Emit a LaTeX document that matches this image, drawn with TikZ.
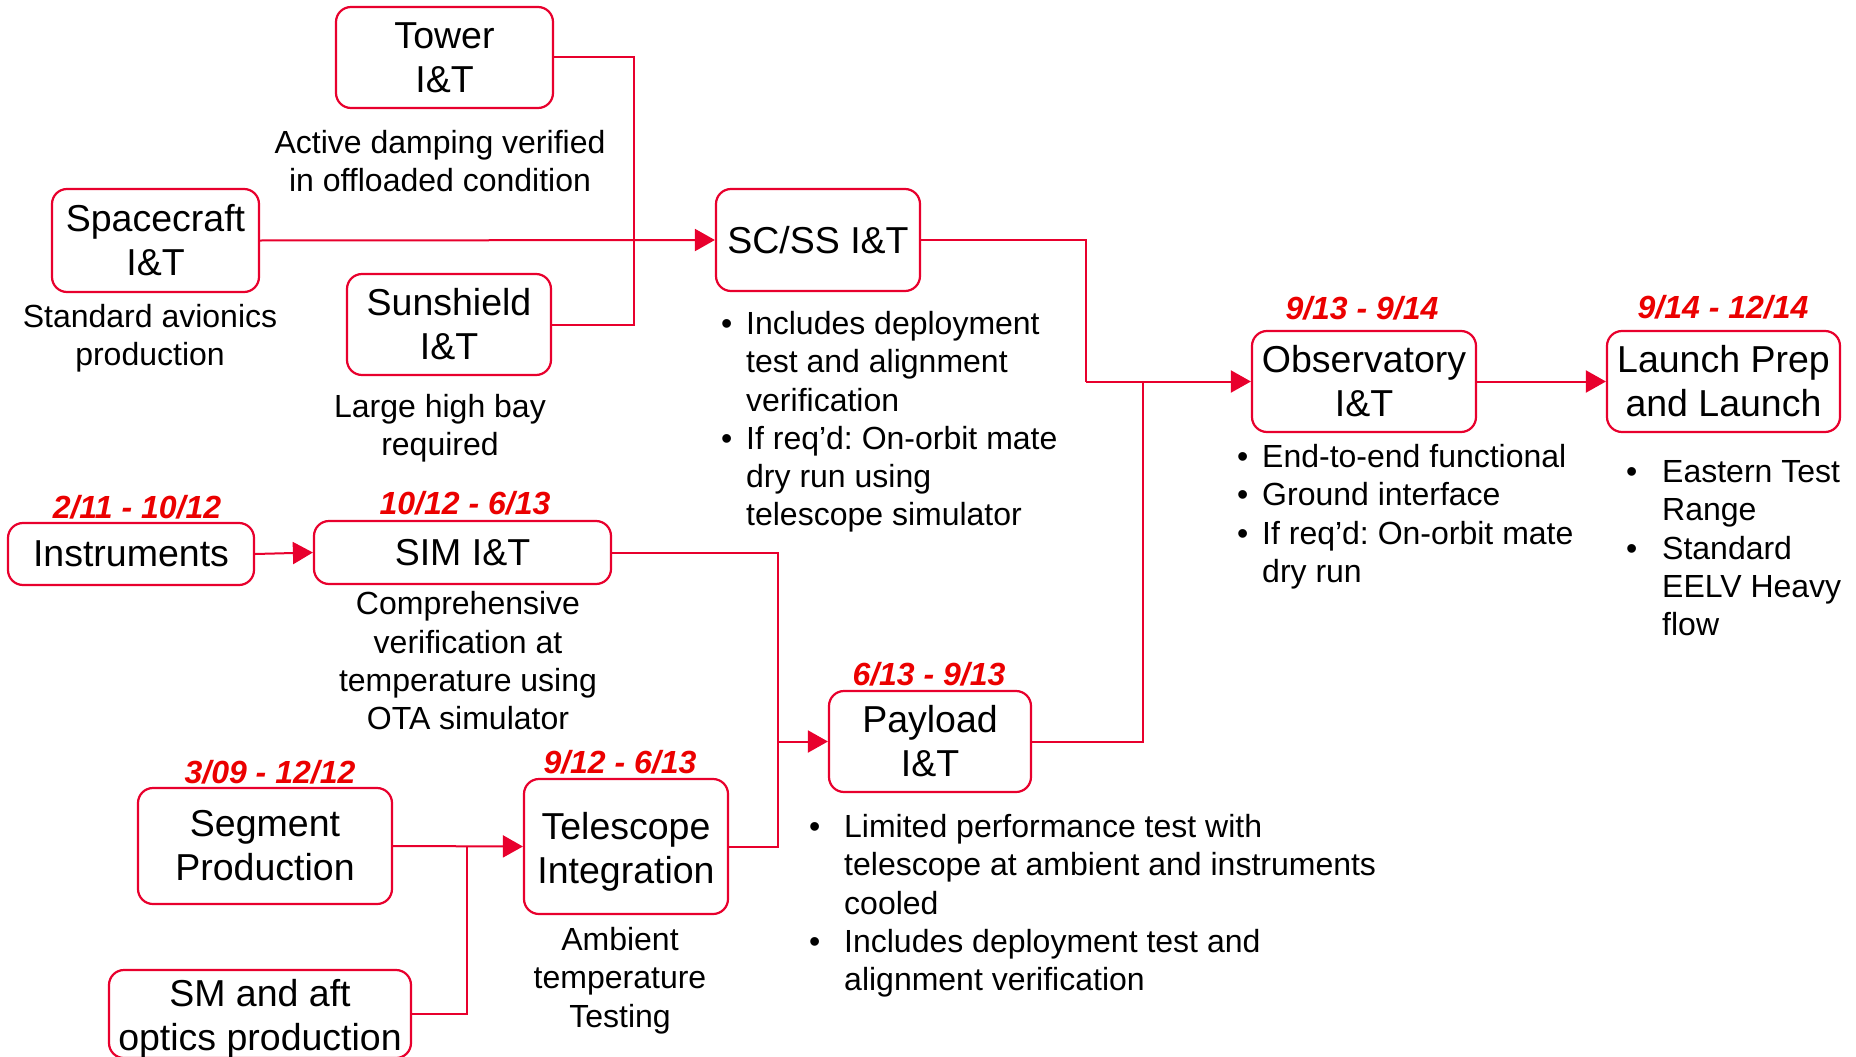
\documentclass[tikz,border=0pt]{standalone}
\usepackage{fontspec}
\setmainfont{Liberation Sans}
\usetikzlibrary{arrows.meta}
\frenchspacing
\definecolor{lred}{RGB}{232,0,45}
\definecolor{dred}{RGB}{235,0,0}
\newcommand{\bx}{\fontsize{37.5}{44}\selectfont}
\newcommand{\an}{\fontsize{32}{38.3}\selectfont}
\newcommand{\dt}{\fontsize{32}{36}\selectfont\bfseries\itshape}
\newcommand{\bl}[1]{\hspace*{-5pt}\makebox[#1][l]{•}\hspace*{5pt}}
\newcommand{\lowtwo}[2]{\raisebox{-6pt}[\height][\depth]{\begin{tabular}{@{}c@{}}#1\\#2\end{tabular}}}
\tikzset{
  box/.style={draw=lred, line width=2.2pt, rounded corners=15pt, inner sep=0pt, align=center, font=\bx},
  conn/.style={draw=lred, line width=2pt},
  arr/.style={conn, -{Triangle[length=20pt,width=22pt]}},
  note/.style={align=center, inner sep=0pt, font=\an},
  date/.style={inner sep=0pt, text=dred, font=\dt},
  blist/.style={anchor=north west, inner sep=0pt, font=\an},
}
\begin{document}
\begin{tikzpicture}[x=1pt,y=-1pt]
\useasboundingbox (0,0) rectangle (1856,1057);
\fill[white] (0,0) rectangle (1856,1057);
% boxes
\node[box, minimum width=217pt, minimum height=101pt] (tower) at (444.5,57.5) {Tower\\I\&T};
\node[box, minimum width=207pt, minimum height=103pt] (sc) at (155.5,240.5) {Spacecraft\\I\&T};
\node[box, minimum width=204pt, minimum height=101pt] (sun) at (449,324.5) {Sunshield\\I\&T};
\node[box, minimum width=204pt, minimum height=102pt] (scss) at (818,240) {SC/SS I\&T};
\node[box, minimum width=224pt, minimum height=101pt] (obs) at (1364,381.5) {Observatory\\I\&T};
\node[box, minimum width=233pt, minimum height=101pt] (launch) at (1723.5,381.5) {Launch Prep\\and Launch};
\node[box, minimum width=246pt, minimum height=62pt] (instr) at (131,554) {Instruments};
\node[box, minimum width=297pt, minimum height=63pt] (sim) at (462.5,552.5) {SIM I\&T};
\node[box, minimum width=202pt, minimum height=101pt] (pay) at (930,741.5) {Payload\\I\&T};
\node[box, minimum width=254pt, minimum height=116pt] (seg) at (265,846) {Segment\\Production};
\node[box, minimum width=204pt, minimum height=135pt] (tel) at (626,846.5) {\lowtwo{Telescope}{Integration}};
\node[box, minimum width=302pt, minimum height=87pt] (sm) at (260,1014) {\lowtwo{SM and aft}{optics production}};
% junctions
\coordinate (j1) at (634,240);
\coordinate (j2) at (1086,381.5);
\coordinate (j3) at (1143,381.5);
\coordinate (j4) at (778,741.5);
\coordinate (j5) at (467,846);
% connectors
\draw[conn] (tower.east) -| (j1);
\draw[conn] (sun.east) -| (j1);
\draw[arr] (sc.east) -- (scss.west);
\draw[conn] (scss.east) -| (j2);
\draw[arr] (j2) -- (obs.west);
\draw[conn] (pay.east) -| (j3);
\draw[arr] (obs.east) -- (launch.west);
\draw[arr] (instr.east) -- (sim.west);
\draw[conn] (sim.east) -| (j4);
\draw[conn] (tel.east) -| (j4);
\draw[arr] (j4) -- (pay.west);
\draw[arr] (seg.east) -- (tel.west);
\draw[conn] (sm.east) -| (j5);
% dates
\node[date] (d1) at (137,507) {2/11 - 10/12};
\node[date] (d2) at (465,503) {10/12 - 6/13};
\node[date] (d3) at (270,772) {3/09 - 12/12};
\node[date] (d4) at (620,762) {9/12 - 6/13};
\node[date] (d5) at (929,674) {6/13 - 9/13};
\node[date] (d6) at (1362,308) {9/13 - 9/14};
\node[date] (d7) at (1723,307) {9/14 - 12/14};
% notes
\node[note] (n1) at (440,161) {Active damping verified\\in offloaded condition};
\node[note] (n2) at (150,338.5) {Standard avionics\\production};
\node[note] (n3) at (440,428.5) {Large high bay\\required};
\node[note] (n4) at (468,661) {Comprehensive\\verification at\\temperature using\\OTA simulator};
\node[note] (n5) at (620,980.5) {Ambient\\temperature\\Testing};
% bullet lists
\node[blist] (l1) at (726,307.4) {\begin{tabular}{@{}l@{}}
\bl{20pt}Includes deployment\\ \hspace*{20pt}test and alignment\\ \hspace*{20pt}verification\\
\bl{20pt}If req’d: On-orbit mate\\ \hspace*{20pt}dry run using\\ \hspace*{20pt}telescope simulator\end{tabular}};
\node[blist] (l2) at (1242,440.4) {\begin{tabular}{@{}l@{}}
\bl{20pt}End-to-end functional\\ \bl{20pt}Ground interface\\
\bl{20pt}If req’d: On-orbit mate\\ \hspace*{20pt}dry run\end{tabular}};
\node[blist] (l3) at (1631,455.4) {\begin{tabular}{@{}l@{}}
\bl{31pt}Eastern Test\\ \hspace*{31pt}Range\\
\bl{31pt}Standard\\ \hspace*{31pt}EELV Heavy\\ \hspace*{31pt}flow\end{tabular}};
\node[blist] (l4) at (814,810.4) {\begin{tabular}{@{}l@{}}
\bl{30pt}Limited performance test with\\ \hspace*{30pt}telescope at ambient and instruments\\ \hspace*{30pt}cooled\\
\bl{30pt}Includes deployment test and\\ \hspace*{30pt}alignment verification\end{tabular}};
\end{tikzpicture}
\end{document}
